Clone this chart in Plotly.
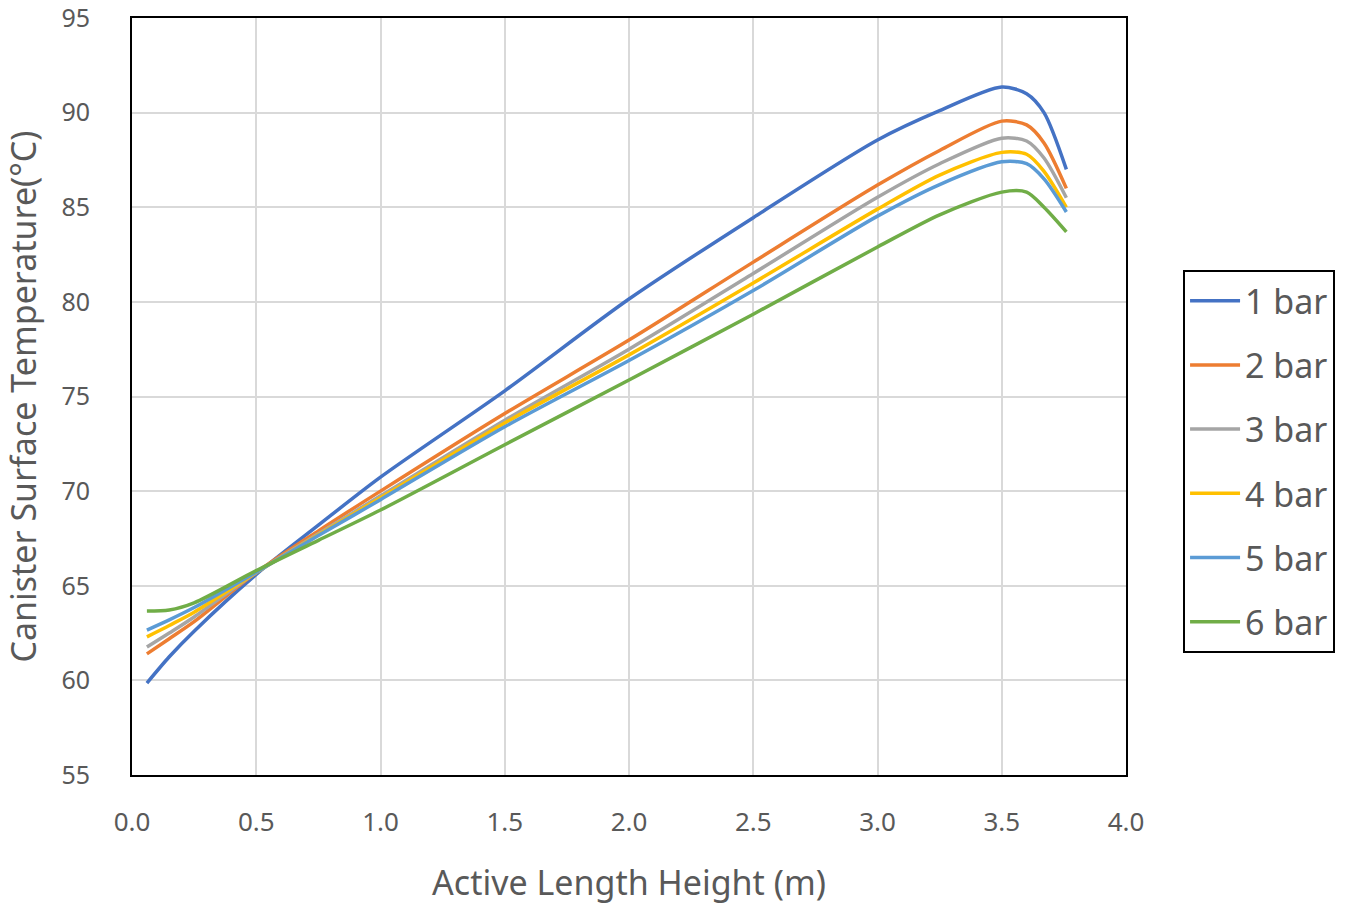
import plotly.graph_objects as go

height_m = [0.06, 0.15, 0.25, 0.5, 0.75, 1.0, 1.5, 2.0, 2.5, 3.0, 3.25, 3.5, 3.6, 3.67, 3.76]

bar1 = [59.86, 61.25, 62.6, 65.6, 68.2, 70.74, 75.3, 80.15, 84.45, 88.55, 90.1, 91.35, 91.0, 90.0, 87.0]
bar2 = [61.4, 62.2, 63.1, 65.7, 67.9, 70.0, 74.1, 77.98, 82.1, 86.17, 88.0, 89.55, 89.35, 88.4, 86.0]
bar3 = [61.76, 62.5, 63.35, 65.7, 67.75, 69.75, 73.75, 77.5, 81.5, 85.53, 87.3, 88.65, 88.5, 87.6, 85.5]
bar4 = [62.3, 62.9, 63.6, 65.7, 67.7, 69.65, 73.6, 77.2, 81.0, 84.9, 86.7, 87.9, 87.8, 86.9, 85.0]
bar5 = [62.66, 63.2, 63.85, 65.72, 67.65, 69.55, 73.4, 76.9, 80.6, 84.53, 86.2, 87.4, 87.3, 86.5, 84.75]
bar6 = [63.66, 63.72, 64.1, 65.8, 67.4, 69.0, 72.45, 75.87, 79.35, 82.9, 84.6, 85.8, 85.8, 85.0, 83.7]

series_names = ["1 bar", "2 bar", "3 bar", "4 bar", "5 bar", "6 bar"]
series_vals = [bar1, bar2, bar3, bar4, bar5, bar6]
colors = ["#4472C4", "#ED7D31", "#A5A5A5", "#FFC000", "#5B9BD5", "#70AD47"]

x_ticks = [0.0, 0.5, 1.0, 1.5, 2.0, 2.5, 3.0, 3.5, 4.0]
y_ticks = [55, 60, 65, 70, 75, 80, 85, 90, 95]

fig = go.Figure()
for name, vals, c in zip(series_names, series_vals, colors):
    fig.add_trace(go.Scatter(
        x=height_m, y=vals, name=name, mode="lines", legendgroup=name,
        line=dict(color=c, width=3.5, shape="spline", smoothing=0.8),
    ))

font_family = "Noto Sans, Open Sans, sans-serif"
fig.update_layout(
    width=1354, height=907,
    margin=dict(l=132, r=228, t=18, b=132),
    paper_bgcolor="white", plot_bgcolor="white",
    font=dict(family=font_family, color="#595959"),
    legend=dict(
        x=1.0574, xanchor="left", y=0.667, yanchor="top",
        bordercolor="black", borderwidth=2,
        font=dict(size=34, color="#595959"),
        tracegroupgap=17, itemwidth=50,
    ),
    showlegend=True,
)
fig.update_xaxes(
    range=[0, 4], tickvals=x_ticks, ticktext=[f"{v:.1f}" for v in x_ticks],
    showgrid=True, gridcolor="#D9D9D9", gridwidth=2,
    showline=True, linecolor="black", linewidth=2, mirror=True,
    zeroline=False, ticks="", automargin=False, ticklabeloverflow="allow",
    tickfont=dict(size=26, color="#595959"), ticklabelstandoff=23,
    title=dict(text="Active Length Height (m)", font=dict(size=34, color="#595959"), standoff=33),
)
fig.update_yaxes(
    range=[55, 95], tickvals=y_ticks,
    showgrid=True, gridcolor="#D9D9D9", gridwidth=2,
    showline=True, linecolor="black", linewidth=2, mirror=True,
    zeroline=False, ticks="", automargin=False, ticklabeloverflow="allow",
    tickfont=dict(size=25, color="#595959"), ticklabelstandoff=35,
    title=dict(text="Canister Surface Temperature(°C)", font=dict(size=34, color="#595959"), standoff=22),
)

fig.write_html("out.html")
